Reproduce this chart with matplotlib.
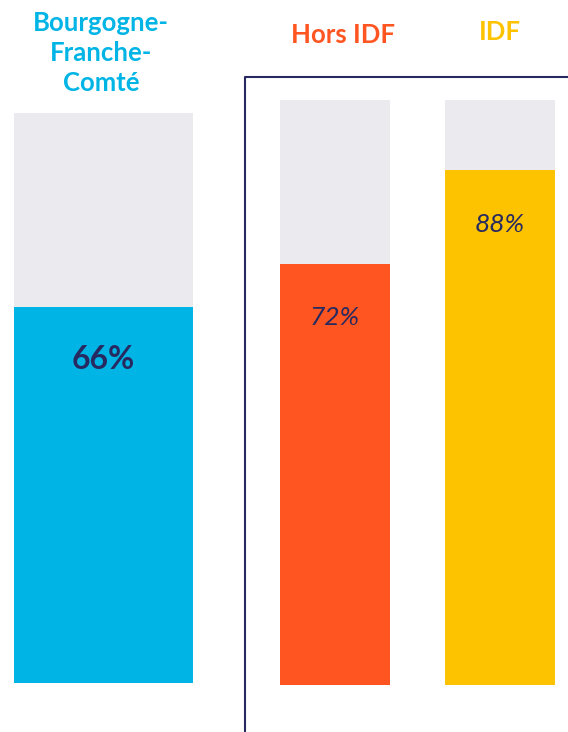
import matplotlib.pyplot as plt
from matplotlib.lines import Line2D

# data
left_label = "Bourgogne-\nFranche-\nComté"
left_value = 66
right_labels = ["Hors IDF", "IDF"]
right_values = [72, 88]

cyan = "#00b5e5"
orange = "#ff5521"
yellow = "#fdc300"
grey = "#ebeaef"
navy = "#272a60"

W, H = 568, 732
fig = plt.figure(figsize=(W / 100, H / 100), dpi=100)


def px_axes(x0, x1, ytop, ybot):
    ax = fig.add_axes([x0 / W, (H - ybot) / H, (x1 - x0) / W, (ybot - ytop) / H])
    ax.set_ylim(0, 100)
    ax.axis("off")
    return ax


# left bar (Bourgogne-Franche-Comté)
ax1 = px_axes(14, 193, 113, 683)
ax1.bar([0], [100], width=1, color=grey)
ax1.bar([0], [left_value], width=1, color=cyan)
ax1.set_xlim(-0.5, 0.5)
ax1.annotate(f"{left_value}%", (0, left_value), xytext=(0, -38), textcoords="offset points",
             ha="center", va="center", fontsize=23, fontweight="bold", color=navy,
             family="Lato")
fig.text(101 / W, 1 - 53 / H, left_label, ha="center", va="center", fontsize=18.5,
         fontweight="bold", color=cyan, linespacing=1.3, family="Lato")

# right group
ax2 = px_axes(280, 555, 100, 685)
bw = 110 / 165
xs = [0, 1]
cols = [orange, yellow]
ax2.bar(xs, [100, 100], width=bw, color=grey)
ax2.bar(xs, right_values, width=bw, color=cols)
ax2.set_xlim(-bw / 2, 1 + bw / 2)
for x, v in zip(xs, right_values):
    ax2.annotate(f"{v}%", (x, v), xytext=(0, -39), textcoords="offset points",
                 ha="center", va="center", fontsize=19, fontstyle="italic",
                 fontweight="normal", color=navy, family="Lato")

fig.text(343 / W, 1 - 35 / H, right_labels[0], ha="center", va="center", fontsize=18.5,
         fontweight="bold", color=orange, family="Lato")
fig.text(500 / W, 1 - 32 / H, right_labels[1], ha="center", va="center", fontsize=18.5,
         fontweight="bold", color=yellow, family="Lato")

# frame around the right group
fig.add_artist(Line2D([245 / W, 245 / W, 1], [0, 1 - 77 / H, 1 - 77 / H],
                      transform=fig.transFigure, color=navy, lw=1.5))

fig.savefig("out.png", dpi=100)
